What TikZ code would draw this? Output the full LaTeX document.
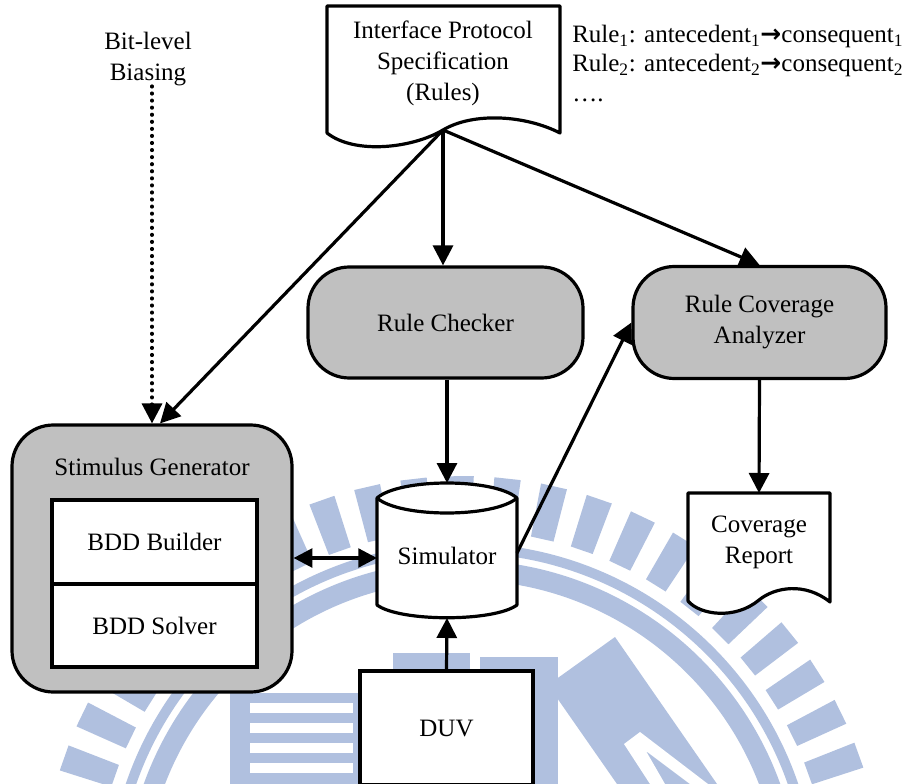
\documentclass[tikz,border=0pt]{standalone}
\usepackage{fontspec}
\setmainfont{Liberation Serif}
\newfontfamily\arrowfont{DejaVu Sans}
\usetikzlibrary{arrows.meta,calc}
\definecolor{boxgray}{RGB}{192,192,192}
\definecolor{wmblue}{RGB}{176,192,223}

\tikzset{
  lw/.style={line width=2.4pt},
  procbox/.style={draw, lw, fill=boxgray, rounded corners=31pt, align=center, inner sep=0pt},
  plainbox/.style={draw, lw, fill=white, align=center, inner sep=0pt},
  lbl/.style={align=center, inner sep=0pt},
  flow/.style={lw, -{Triangle[length=15pt,width=15pt]}},
  twoway/.style={lw, {Triangle[length=14pt,width=14pt]}-{Triangle[length=14pt,width=14pt]}},
  biasline/.style={line width=2.6pt, line cap=round, dash pattern=on 0.5pt off 4.8pt,
                   -{Triangle[length=15pt,width=15pt]}},
  docshape/.style={lw, fill=white, line join=round},
}

\begin{document}
\begin{tikzpicture}[x=0.75pt, y=-0.75pt,
  every node/.style={font=\fontsize{18.75pt}{23.25pt}\selectfont}]
\useasboundingbox (0,0) rectangle (909,784);

% ---- background emblem (watermark) ----
\begin{scope}
  \clip (0,0) rectangle (909,784);
  \begin{scope}[shift={(462,898)}]
    \fill[wmblue, even odd rule] (0,0) circle[radius=355] (0,0) circle[radius=345];
    \fill[wmblue, even odd rule] (0,0) circle[radius=338] (0,0) circle[radius=318];
    \foreach \k in {-10,...,15}{
      \pgfmathsetmacro{\ang}{-(77.4+6.4*\k)}
      \fill[wmblue] (\ang-1.8:368) -- (\ang-1.8:422) -- (\ang+1.8:422) -- (\ang+1.8:368) -- cycle;
    }
  \end{scope}
  % striped block
  \fill[wmblue] (230,693) rectangle (360,784);
  \foreach \yy in {703,723,743,763}{
    \fill[white] (250,\yy) rectangle (353,\yy+9.5);
  }
  % upright bars
  \fill[wmblue] (393,653) rectangle (470,784);
  \fill[wmblue] (480,657) rectangle (558,784);
  % slanted stroke with letter
  \fill[wmblue] (548,685) -- (615,637) -- (717,784) -- (617,784) -- cycle;
  \fill[white] (624,744) -- (640,732) -- (708,784) -- (690,784) -- (646,751) -- (665,784) -- (650,784) -- cycle;
\end{scope}

% ---- specification document ----
\draw[docshape] (327,6) -- (560,6) -- (560,133)
  .. controls (525,115) and (473,112) .. (443,130)
  .. controls (413,148) and (355,155) .. (327,133) -- cycle;
\node[lbl] (spec) at (443,63) {Interface Protocol\\Specification\\(Rules)};
\coordinate (specout) at (443,130);

% rule list
\node[anchor=base west, inner sep=0pt] (rule1) at (572,43)
  {Rule\textsubscript{1}: antecedent\textsubscript{1}{\arrowfont\bfseries →}consequent\textsubscript{1}};
\node[anchor=base west, inner sep=0pt] (rule2) at (572,72)
  {Rule\textsubscript{2}: antecedent\textsubscript{2}{\arrowfont\bfseries →}consequent\textsubscript{2}};
\node[anchor=base west, inner sep=0pt] (ruledots) at (572,102) {….};

% biasing input
\node[lbl] (biastext) at (148,59) {Bit-level\\Biasing};

% ---- processing blocks ----
\node[procbox, minimum width=206.25pt, minimum height=83.25pt] (rc) at (445.5,322.5) {Rule Checker};
\node[procbox, minimum width=189.75pt, minimum height=84pt] (rca) at (759.5,322.5) {Rule Coverage\\Analyzer};

% stimulus generator with its two engines
\node[procbox, minimum width=210pt, minimum height=200.25pt] (stim) at (152,558.5) {};
\node[lbl] (stimtitle) at (152,467) {Stimulus Generator};
\node[plainbox, minimum width=153.75pt, minimum height=63pt] (builder) at (154.5,542) {BDD Builder};
\node[plainbox, minimum width=153.75pt, minimum height=62.25pt] (solver) at (154.5,625.5) {BDD Solver};

% simulator drum
\draw[docshape] (377,498) .. controls (400,478) and (494,478) .. (517,498) -- (517,605)
  .. controls (494,622) and (400,622) .. (377,605) -- cycle;
\draw[lw] (377,498) .. controls (400,518) and (494,518) .. (517,498);
\node[lbl] (sim) at (447,556) {Simulator};
\coordinate (simtop) at (447,483);
\coordinate (simbot) at (447,618);
\coordinate (simleft) at (377,558);
\coordinate (simright) at (517,553);

% design under verification
\node[plainbox, minimum width=129.75pt, minimum height=85.5pt] (duv) at (446.5,728) {DUV};

% coverage report document
\draw[docshape] (688,493) -- (830,493) -- (830,602)
  .. controls (805,582) and (775,587) .. (759,600)
  .. controls (735,620) and (700,615) .. (688,601) -- cycle;
\node[lbl] (cov) at (759,542) {Coverage\\Report};
\coordinate (covin) at (759,493);

% ---- connectors ----
\draw[flow] (specout) -- (specout |- rc.north);
\draw[flow] (specout) -- ([xshift=6pt]stim.north);
\draw[flow] (specout) -- (rca.north);
\draw[biasline] (biastext.south -| stim.north) -- (stim.north);
\draw[flow] (rc.south -| simtop) -- (simtop);
\draw[flow] (duv.north) -- (simbot);
\draw[twoway] (stim.east |- simleft) -- (simleft);
\draw[flow] (simright) -- (rca.west);
\draw[flow] (rca.south) -- (covin);
\end{tikzpicture}
\end{document}
